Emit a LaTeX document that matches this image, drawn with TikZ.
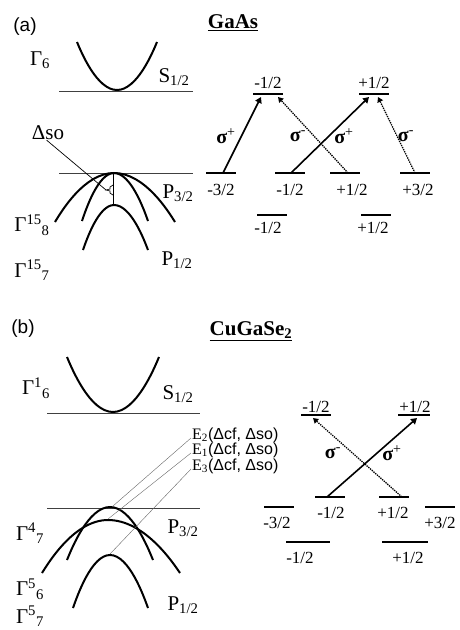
\documentclass[tikz,border=0pt]{standalone}
\usepackage{fontspec}
\setmainfont{Liberation Serif}
\setsansfont{Liberation Sans}
\usetikzlibrary{arrows.meta}
\tikzset{
    level/.style={fill,minimum width=30pt,minimum height=1.6pt,inner sep=0pt},
    thicklevel/.style={level,minimum height=2.6pt},
    band/.style={line width=2pt},
    refline/.style={line width=1pt,black!75},
    thinline/.style={line width=0.4pt,black!60},
    lbl/.style={inner sep=0pt,font=\fontsize{17}{19}\selectfont},
    siglbl/.style={inner sep=0pt,font=\fontsize{20}{22}\selectfont},
    big/.style={inner sep=0pt,font=\fontsize{21}{24}\selectfont},
    elbl/.style={inner sep=0pt,anchor=west,font=\fontsize{16}{17}\selectfont},
    trans/.style={->,line width=1.6pt},
    transdot/.style={->,line width=1.3pt,densely dotted},
    >={[scale=0.8]Triangle}
}
\newcommand\sig[1]{{\bfseries σ}\textsuperscript{#1}}
\begin{document}
\begin{tikzpicture}[x=1pt,y=-1pt]
\useasboundingbox (0,0) rectangle (459,630);
% ---- (a) GaAs
\node[big,font=\sffamily\fontsize{19}{21}\selectfont] (tag_a) at (25,27) {(a)};
\node[big,font=\bfseries\fontsize{21}{24}\selectfont] (title_a) at (233,23) {\underline{GaAs}};
\draw[band] (77,42) parabola bend (117,90) (157,42);
\draw[refline] (59,91) -- (193,91);
\draw[refline] (59,173) -- (193,173);
\draw[band] (55,222) parabola bend (114,173) (175,222);
\draw[band] (82,221) parabola bend (114,173) (148,221);
\draw[band] (83,250) parabola bend (114,205) (148,250);
\draw[line width=0.7pt] (113,173) -- (113,205);
\coordinate (brace_a) at (106,190);
\draw[line width=0.7pt] (113,185) -- (110,187) -- (110,189) -- (brace_a) -- (110,191) -- (110,193) -- (113,195);
\node[big] (dso_a) at (48,133) {Δso};
\draw[line width=0.7pt] ([xshift=15pt]dso_a.south west) -- (brace_a);
\node[big] (g6_a) at (40,60) {Γ\textsubscript{6}};
\node[big] (s12_a) at (174,77) {S\textsubscript{1/2}};
\node[big] (p32_a) at (178,193) {P\textsubscript{3/2}};
\node[big] (p12_a) at (177,260) {P\textsubscript{1/2}};
\node[big] (g158_a) at (32,225) {Γ\textsuperscript{15}\textsubscript{8}};
\node[big] (g157_a) at (32,270) {Γ\textsuperscript{15}\textsubscript{7}};
% levels
\node[level] (up_m12_a) at (268,94) {};
\node[thicklevel] (up_p12_a) at (374,94) {};
\node[level] (lo_m32_a) at (221,173) {};
\node[level] (lo_m12_a) at (290,173) {};
\node[level] (lo_p12_a) at (345,173) {};
\node[level] (lo_p32_a) at (415,173) {};
\node[level] (so_m12_a) at (272,215) {};
\node[level] (so_p12_a) at (376,215) {};
\node[lbl] at (268,83) {-1/2};
\node[lbl] at (374,83) {+1/2};
\node[lbl] at (221,190) {-3/2};
\node[lbl] at (290,190) {-1/2};
\node[lbl] at (352,190) {+1/2};
\node[lbl] at (418,190) {+3/2};
\node[lbl] at (268,228) {-1/2};
\node[lbl] at (373,228) {+1/2};
% transitions
\draw[trans] ([xshift=2pt]lo_m32_a.center) -- ([xshift=-7pt,yshift=-3pt]up_m12_a.center);
\draw[transdot] ([xshift=3pt]lo_p12_a.center) -- ([xshift=10pt,yshift=-3pt]up_m12_a.center);
\draw[trans] ([xshift=1pt]lo_m12_a.center) -- ([xshift=-5pt,yshift=-3pt]up_p12_a.center);
\draw[transdot] (lo_p32_a.center) -- ([xshift=4pt,yshift=-3pt]up_p12_a.center);
\node[siglbl] at (226,136) {\sig{+}};
\node[siglbl] at (298,136) {\sig{-}};
\node[siglbl] at (344,136) {\sig{+}};
\node[siglbl] at (406,136) {\sig{-}};
% ---- (b) CuGaSe2
\node[big,font=\sffamily\fontsize{19}{21}\selectfont] (tag_b) at (23,329) {(b)};
\node[big,font=\bfseries\fontsize{21}{24}\selectfont] (title_b) at (251,331) {\underline{CuGaSe\textsubscript{2}}};
\draw[band] (67,357) parabola bend (113,412) (159,357);
\draw[refline] (47,413) -- (200,413);
\draw[refline] (47,508) -- (200,508);
\draw[band] (67,560) parabola bend (110,507) (153,560);
\draw[band] (42,573) parabola bend (108,520) (180,573);
\draw[band] (73,608) parabola bend (110,555) (148,608);
\coordinate (top_e2) at (113,506);
\coordinate (top_e1) at (108,519);
\coordinate (top_e3) at (110,554);
\node[elbl] (e2) at (192,435) {E\textsubscript{2}{\sffamily(Δcf, Δso)}};
\node[elbl] (e1) at (192,450) {E\textsubscript{1}{\sffamily(Δcf, Δso)}};
\node[elbl] (e3) at (192,466) {E\textsubscript{3}{\sffamily(Δcf, Δso)}};
\draw[thinline] (top_e2) -- ([xshift=-1pt,yshift=-3pt]e2.west);
\draw[thinline] (top_e1) -- ([xshift=-1pt,yshift=-3pt]e1.west);
\draw[thinline] (top_e3) -- ([xshift=-1pt,yshift=-3pt]e3.west);
\node[big] (g16_b) at (36,388) {Γ\textsuperscript{1}\textsubscript{6}};
\node[big] (s12_b) at (178,394) {S\textsubscript{1/2}};
\node[big] (p32_b) at (183,528) {P\textsubscript{3/2}};
\node[big] (p12_b) at (183,605) {P\textsubscript{1/2}};
\node[big] (g47_b) at (30,533) {Γ\textsuperscript{4}\textsubscript{7}};
\node[big] (g56_b) at (30,589) {Γ\textsuperscript{5}\textsubscript{6}};
\node[big] (g57_b) at (30,616) {Γ\textsuperscript{5}\textsubscript{7}};
% levels
\node[level] (up_m12_b) at (316,415) {};
\node[level,minimum width=32pt] (up_p12_b) at (414,415) {};
\node[thicklevel] (mid_m12_b) at (330,497) {};
\node[thicklevel] (mid_p12_b) at (394,497) {};
\node[level] (mid_m32_b) at (279,507) {};
\node[level] (mid_p32_b) at (440,507) {};
\node[level,minimum width=44pt] (lo_m12_b) at (308,542) {};
\node[thicklevel,minimum width=46pt] (lo_p12_b) at (405,542) {};
\node[lbl] at (316,407) {-1/2};
\node[lbl] at (415,407) {+1/2};
\node[lbl] at (331,513) {-1/2};
\node[lbl] at (393,513) {+1/2};
\node[lbl] at (277,523) {-3/2};
\node[lbl] at (440,523) {+3/2};
\node[lbl] at (300,558) {-1/2};
\node[lbl] at (408,558) {+1/2};
% transitions
\draw[trans] ([xshift=-3pt]mid_m12_b.center) -- ([xshift=3pt,yshift=-3pt]up_p12_b.center);
\draw[transdot] ([xshift=8pt]mid_p12_b.center) -- ([xshift=-3pt,yshift=-3pt]up_m12_b.center);
\node[siglbl] at (333,453) {\sig{-}};
\node[siglbl] at (392,453) {\sig{+}};
\end{tikzpicture}
\end{document}
